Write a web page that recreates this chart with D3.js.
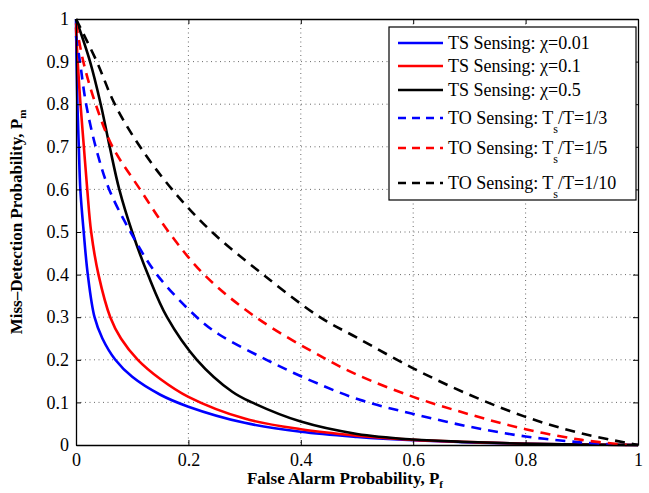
<!DOCTYPE html>
<html>
<head>
<meta charset="utf-8">
<script src="https://cdn.jsdelivr.net/npm/d3@7"></script>
<style>
  body { margin: 0; background: #fff; }
</style>
</head>
<body>
<div id="container"></div>
<script>
const xTicks = [0, 0.2, 0.4, 0.6, 0.8, 1];
const yTicks = [0, 0.1, 0.2, 0.3, 0.4, 0.5, 0.6, 0.7, 0.8, 0.9, 1];

// points: [false alarm, miss detection]
const tsChi001 = [[0,1],[0.001,0.9],[0.0025,0.8],[0.005,0.7],[0.0077,0.6],[0.0137,0.5],[0.021,0.4],[0.033,0.3],[0.047,0.25],[0.07,0.2],[0.1,0.16],[0.15,0.118],[0.2,0.09],[0.3,0.052],[0.4,0.031],[0.5,0.019],[0.6,0.011],[0.7,0.006],[0.8,0.003],[0.9,0.001],[1,0]];
const tsChi01 = [[0,0.98],[0.003,0.9],[0.008,0.8],[0.014,0.7],[0.02,0.6],[0.027,0.5],[0.04,0.4],[0.061,0.3],[0.08,0.25],[0.11,0.2],[0.15,0.155],[0.2,0.113],[0.3,0.062],[0.4,0.037],[0.5,0.022],[0.6,0.012],[0.7,0.007],[0.8,0.003],[0.9,0.001],[1,0]];
const tsChi05 = [[0,1],[0.025,0.9],[0.044,0.8],[0.06,0.7],[0.077,0.6],[0.1,0.5],[0.128,0.4],[0.162,0.3],[0.215,0.2],[0.278,0.125],[0.313,0.1],[0.4,0.055],[0.5,0.026],[0.6,0.013],[0.7,0.007],[0.8,0.003],[0.9,0.001],[1,0]];
const toRatio3 = [[0,0.96],[0.007,0.9],[0.018,0.8],[0.037,0.69],[0.059,0.6],[0.097,0.5],[0.144,0.4],[0.215,0.3],[0.254,0.26],[0.339,0.2],[0.42,0.15],[0.505,0.106],[0.6,0.073],[0.7,0.043],[0.8,0.02],[0.9,0.006],[0.97,0]];
const toRatio5 = [[0,0.99],[0.013,0.9],[0.035,0.8],[0.065,0.7],[0.114,0.6],[0.165,0.5],[0.228,0.4],[0.32,0.3],[0.44,0.205],[0.5,0.165],[0.6,0.113],[0.7,0.072],[0.8,0.037],[0.9,0.012],[0.98,0]];
const toRatio10 = [[0,1],[0.037,0.9],[0.069,0.8],[0.114,0.7],[0.171,0.6],[0.242,0.5],[0.333,0.4],[0.434,0.3],[0.5,0.252],[0.6,0.18],[0.7,0.118],[0.8,0.066],[0.9,0.027],[1,0]];

const series = [
  { name: "TS Sensing: \u03c7=0.01", values: tsChi001, color: "#0000ff", dashed: false },
  { name: "TS Sensing: \u03c7=0.1", values: tsChi01, color: "#ff0000", dashed: false },
  { name: "TS Sensing: \u03c7=0.5", values: tsChi05, color: "#000000", dashed: false },
  { name: "TO Sensing: T", sub: "s", tail: "/T=1/3", values: toRatio3, color: "#0000ff", dashed: true },
  { name: "TO Sensing: T", sub: "s", tail: "/T=1/5", values: toRatio5, color: "#ff0000", dashed: true },
  { name: "TO Sensing: T", sub: "s", tail: "/T=1/10", values: toRatio10, color: "#000000", dashed: true }
];

const totalWidth = 649;
const totalHeight = 493;
const plot = { left: 76, right: 638, top: 19, bottom: 445 };
const serif = "Liberation Serif";

const x = d3.scaleLinear().domain([0, 1]).range([plot.left, plot.right]);
const y = d3.scaleLinear().domain([0, 1]).range([plot.bottom, plot.top]);

const svg = d3.select("#container")
  .append("svg")
  .attr("width", totalWidth)
  .attr("height", totalHeight)
  .attr("font-family", serif);

// Grid
const grid = svg.append("g").attr("stroke", "#444").attr("stroke-width", 0.8).attr("stroke-dasharray", "1,3.5");
grid.selectAll(".gx").data(xTicks.slice(1, -1)).enter().append("line")
  .attr("x1", d => x(d)).attr("x2", d => x(d)).attr("y1", plot.top).attr("y2", plot.bottom);
grid.selectAll(".gy").data(yTicks.slice(1, -1)).enter().append("line")
  .attr("x1", plot.left).attr("x2", plot.right).attr("y1", d => y(d)).attr("y2", d => y(d));

// Curves
const line = d3.line()
  .x(d => x(d[0]))
  .y(d => y(d[1]))
  .curve(d3.curveCatmullRom.alpha(0.5));

svg.append("g").selectAll("path")
  .data(series)
  .enter()
  .append("path")
  .attr("d", d => line(d.values))
  .attr("fill", "none")
  .attr("stroke", d => d.color)
  .attr("stroke-width", 2.6)
  .attr("stroke-dasharray", d => d.dashed ? "10,7" : null);

// Axes (ticks inside, on all four sides)
const fmt = d => d === 0 || d === 1 ? String(d) : d3.format(".1f")(d);

svg.append("g")
  .attr("transform", `translate(0,${plot.bottom})`)
  .call(d3.axisBottom(x).tickValues(xTicks).tickFormat(fmt).tickSizeInner(-5).tickSizeOuter(0).tickPadding(8));
svg.append("g")
  .attr("transform", `translate(${plot.left},0)`)
  .call(d3.axisLeft(y).tickValues(yTicks).tickFormat(fmt).tickSizeInner(-5).tickSizeOuter(0).tickPadding(7));
svg.append("g")
  .attr("transform", `translate(0,${plot.top})`)
  .call(d3.axisTop(x).tickValues(xTicks).tickFormat("").tickSizeInner(-5).tickSizeOuter(0));
svg.append("g")
  .attr("transform", `translate(${plot.right},0)`)
  .call(d3.axisRight(y).tickValues(yTicks).tickFormat("").tickSizeInner(-5).tickSizeOuter(0));

svg.selectAll(".domain").attr("stroke", "#000").attr("stroke-width", 1.3);
svg.selectAll(".tick line").attr("stroke", "#000");
svg.selectAll(".tick text")
  .attr("font-size", 18)
  .attr("fill", "#000");

// Axis labels
const xLabel = svg.append("text")
  .attr("x", (plot.left + plot.right) / 2 - 12)
  .attr("y", 484)
  .attr("text-anchor", "middle")
  .attr("font-weight", "bold")
  .attr("font-size", 17);
xLabel.append("tspan").text("False Alarm Probability, P");
xLabel.append("tspan").attr("dy", 4).attr("font-size", 11).text("f");

const yLabel = svg.append("text")
  .attr("transform", "rotate(-90)")
  .attr("x", -222)
  .attr("y", 22)
  .attr("text-anchor", "middle")
  .attr("font-weight", "bold")
  .attr("font-size", 17);
yLabel.append("tspan").text("Miss\u2013Detection Probability, P");
yLabel.append("tspan").attr("dy", 4).attr("font-size", 11).text("m");

// Legend
const legendRows = [43, 66, 90, 118, 148, 183];
const legend = svg.append("g").attr("id", "legend");

legend.append("rect")
  .attr("x", 389)
  .attr("y", 27)
  .attr("width", 247)
  .attr("height", 173)
  .attr("fill", "#fff")
  .attr("stroke", "#000")
  .attr("stroke-width", 1.2);

const items = legend.selectAll("g.item")
  .data(series)
  .enter()
  .append("g")
  .attr("class", "item")
  .attr("transform", (d, i) => `translate(0,${legendRows[i]})`);

items.append("line")
  .attr("x1", 398).attr("x2", 443)
  .attr("y1", 0).attr("y2", 0)
  .attr("stroke", d => d.color)
  .attr("stroke-width", 2.6)
  .attr("stroke-dasharray", d => d.dashed ? "8,6" : null);

const labels = items.append("text")
  .attr("x", 448)
  .attr("y", 6)
  .attr("font-size", 18);
labels.append("tspan").text(d => d.name);
labels.filter(d => d.sub).append("tspan").attr("dy", 9).attr("font-size", 12).text(d => d.sub);
labels.filter(d => d.sub).append("tspan").attr("dy", -9).text(d => d.tail);

// every text in serif, overriding the axis default
svg.selectAll("g").filter(function () { return this.hasAttribute("font-family"); }).attr("font-family", serif);
svg.selectAll("text").attr("font-family", serif);
</script>
</body>
</html>
